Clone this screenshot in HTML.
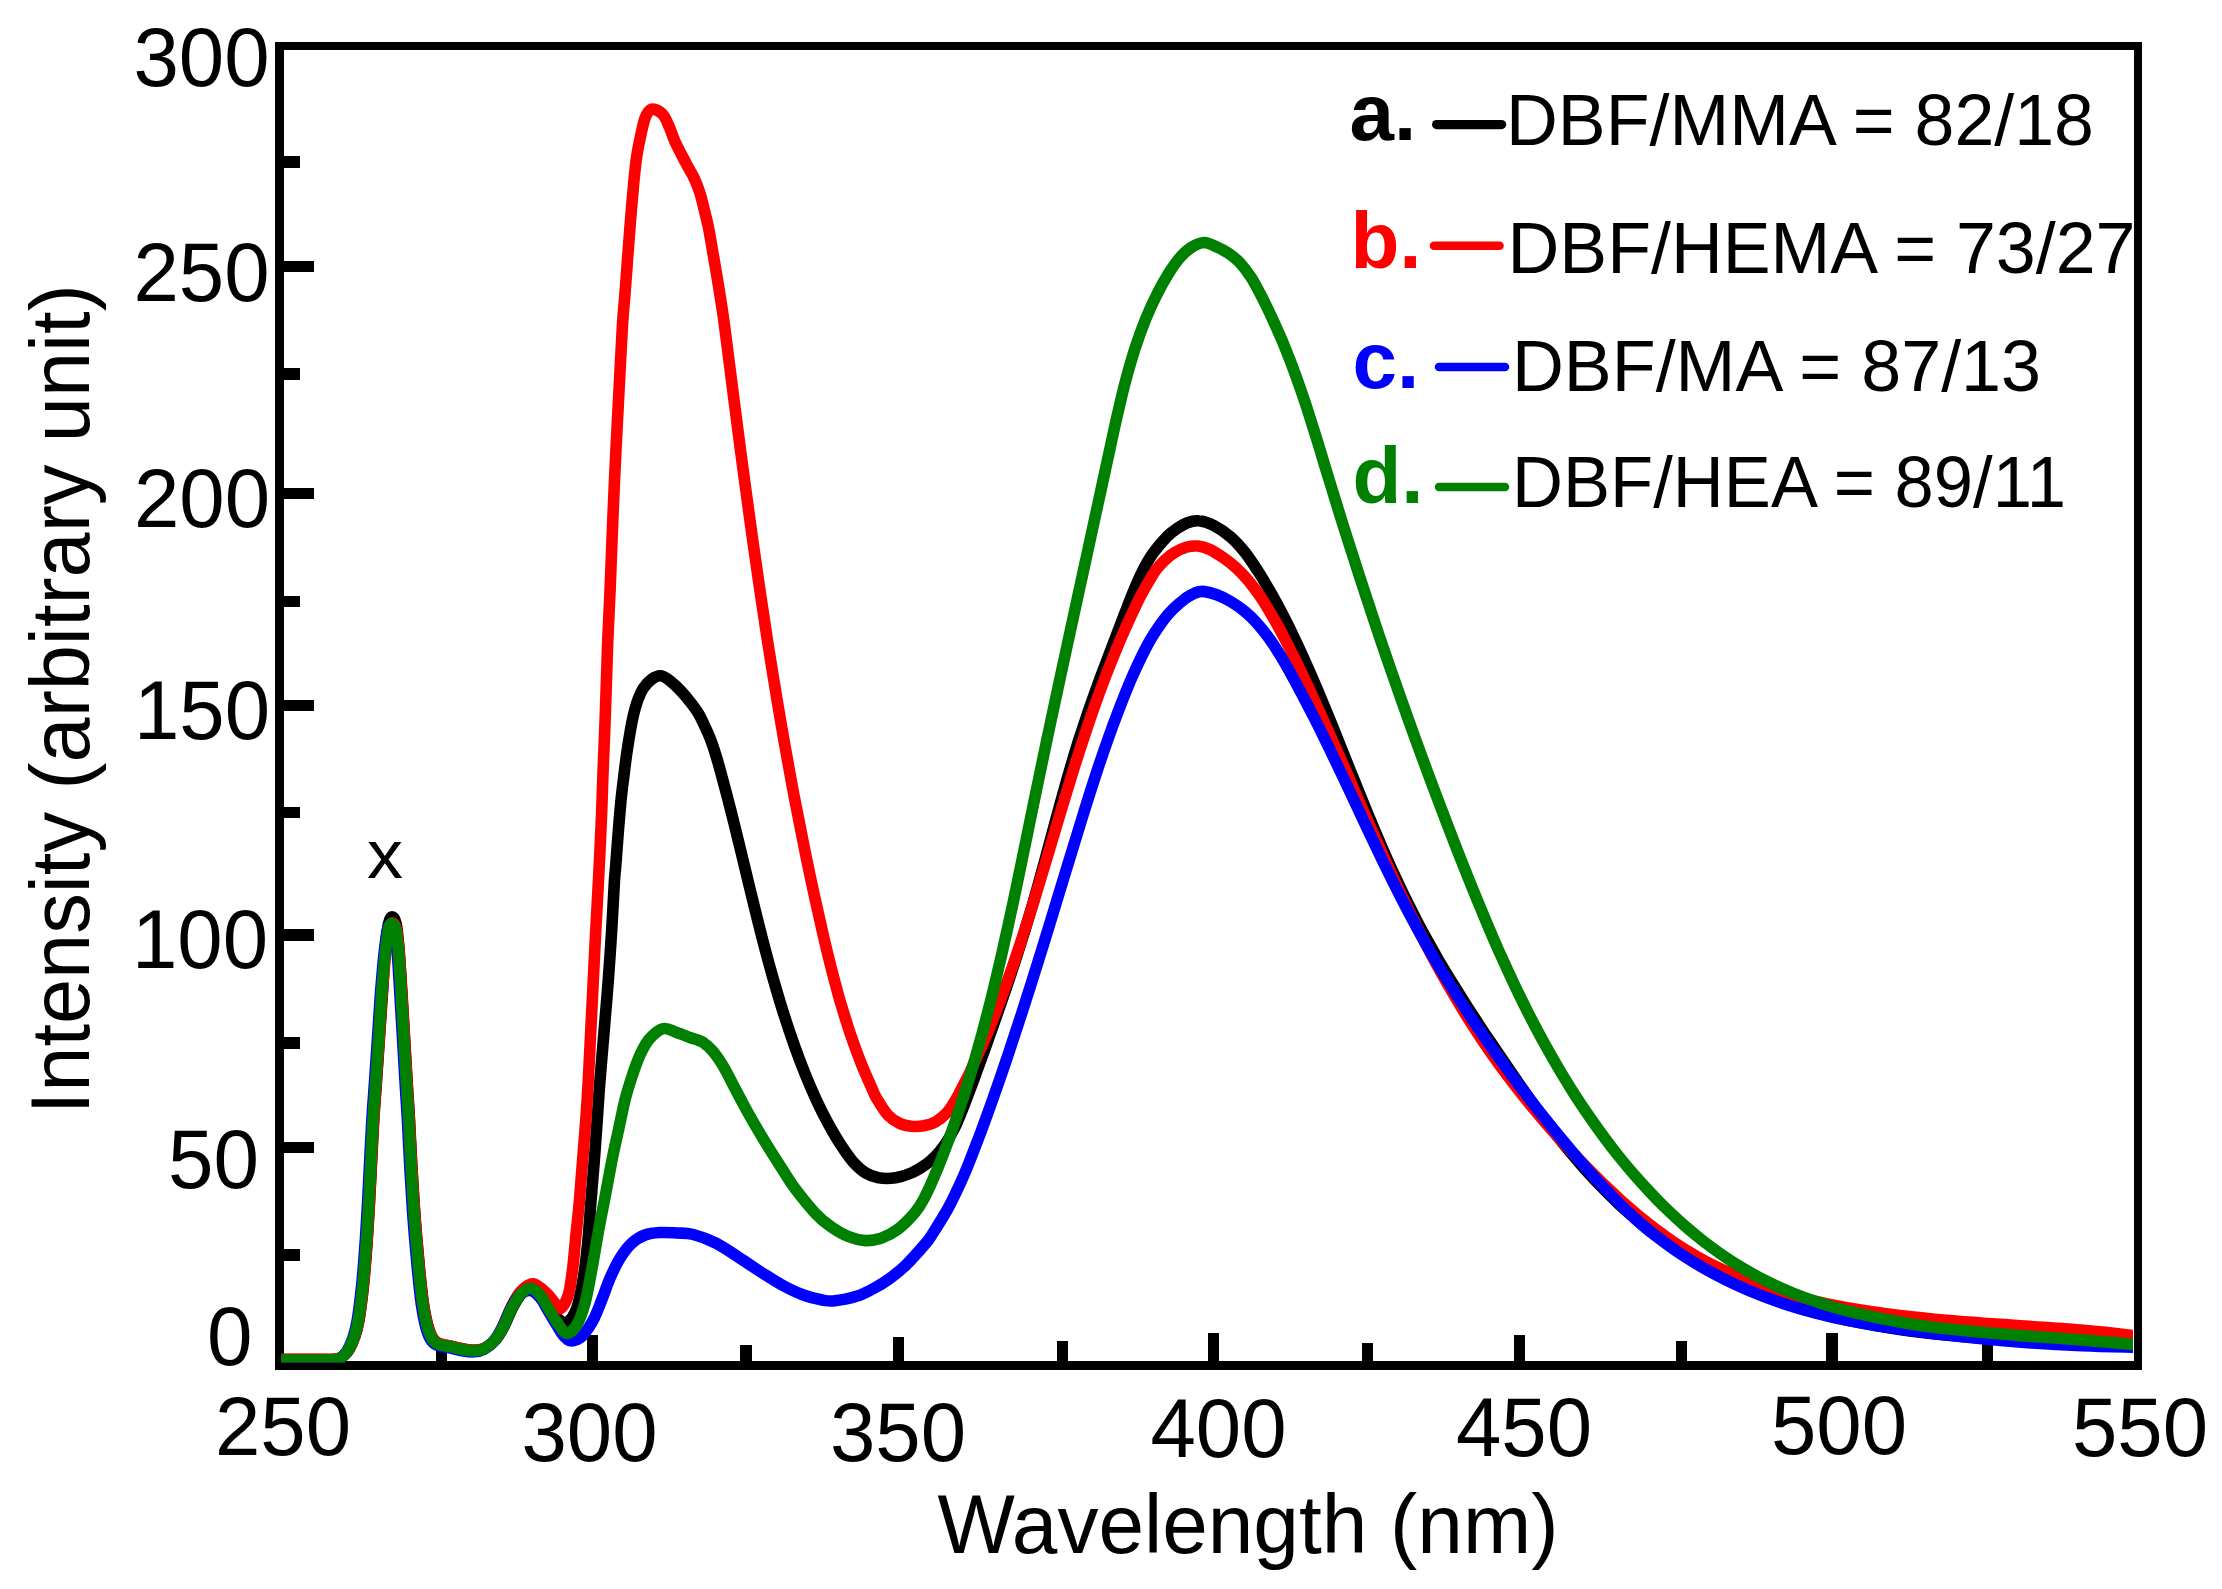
<!DOCTYPE html>
<html lang="en"><head><meta charset="utf-8"><title>Fluorescence spectra</title>
<style>
html,body{margin:0;padding:0;background:#fff;}
body{width:2222px;height:1589px;overflow:hidden;}
svg{display:block;}
text{font-family:"Liberation Sans",Arial,Helvetica,sans-serif;}
</style></head><body>
<svg width="2222" height="1589" viewBox="0 0 2222 1589">
<rect width="2222" height="1589" fill="#fff"/>
<defs><clipPath id="plot"><rect x="281" y="50" width="1852" height="1312.5"/></clipPath></defs>

<g id="axes" fill="#000" shape-rendering="crispEdges">
<rect x="275" y="42" width="1867" height="8"/>
<rect x="275" y="1361" width="1867" height="9"/>
<rect x="275" y="42" width="9" height="1328"/>
<rect x="2134" y="42" width="8" height="1328"/>
<rect x="283.5" y="156.3" width="16.5" height="11.4"/>
<rect x="283.5" y="260.6" width="30.5" height="11.4"/>
<rect x="283.5" y="368.3" width="16.5" height="11.4"/>
<rect x="283.5" y="487.8" width="30.5" height="11.4"/>
<rect x="283.5" y="595.8" width="16.5" height="11.4"/>
<rect x="283.5" y="699.5" width="30.5" height="11.4"/>
<rect x="283.5" y="806.8" width="16.5" height="11.4"/>
<rect x="283.5" y="929.3" width="30.5" height="11.4"/>
<rect x="283.5" y="1037.1" width="16.5" height="11.4"/>
<rect x="283.5" y="1141.8" width="30.5" height="11.4"/>
<rect x="283.5" y="1249.1" width="16.5" height="11.4"/>
<rect x="435.9" y="1349.0" width="11.2" height="13.0"/>
<rect x="586.5" y="1335.0" width="11.2" height="27.0"/>
<rect x="740.4" y="1345.0" width="11.2" height="17.0"/>
<rect x="892.6" y="1336.7" width="11.2" height="25.3"/>
<rect x="1056.6" y="1341.3" width="11.2" height="20.7"/>
<rect x="1207.6" y="1333.0" width="11.2" height="29.0"/>
<rect x="1361.7" y="1343.0" width="11.2" height="19.0"/>
<rect x="1513.6" y="1335.0" width="11.2" height="27.0"/>
<rect x="1675.9" y="1341.3" width="11.2" height="20.7"/>
<rect x="1826.4" y="1333.0" width="11.2" height="29.0"/>
<rect x="1981.7" y="1343.0" width="11.2" height="19.0"/>
</g>
<g id="curves" clip-path="url(#plot)" fill="none" stroke-width="11.6" stroke-linejoin="round" stroke-linecap="butt">
<path id="c_black" stroke="#000000" d="M281.8 1359.5C283.0 1359.5 286.5 1359.5 288.8 1359.5C291.1 1359.5 293.5 1359.5 295.8 1359.5C298.1 1359.5 300.5 1359.5 302.8 1359.5C305.1 1359.5 307.5 1359.5 309.8 1359.5C312.1 1359.5 314.5 1359.5 316.8 1359.5C319.1 1359.5 321.5 1359.5 323.8 1359.5C326.1 1359.5 328.6 1359.6 330.8 1359.5C333.0 1359.4 334.8 1359.5 336.8 1359.0C338.8 1358.5 340.8 1358.1 342.8 1356.5C344.9 1354.9 347.1 1352.9 349.1 1349.5C351.1 1346.1 353.3 1341.2 355.0 1336.2C356.7 1331.2 357.9 1326.5 359.1 1319.5C360.4 1312.5 361.5 1302.8 362.5 1294.5C363.5 1286.2 364.2 1279.2 365.0 1269.5C365.8 1259.8 366.8 1247.3 367.5 1236.2C368.2 1225.1 368.8 1215.3 369.5 1202.8C370.2 1190.3 370.9 1175.1 371.6 1161.2C372.3 1147.3 373.0 1133.1 373.8 1119.5C374.6 1105.9 375.6 1094.5 376.6 1079.5C377.6 1064.5 379.0 1044.8 380.0 1029.5C381.0 1014.2 381.9 1001.3 382.8 987.8C383.7 974.3 384.3 959.2 385.3 948.5C386.3 937.8 387.5 928.8 388.6 923.5C389.7 918.2 390.8 916.8 392.0 916.8C393.2 916.8 394.9 918.2 396.1 923.5C397.3 928.8 398.1 937.8 399.0 948.5C399.9 959.2 400.8 974.3 401.6 987.8C402.5 1001.3 403.2 1014.2 404.1 1029.5C405.0 1044.8 406.1 1064.5 407.0 1079.5C407.9 1094.5 408.7 1105.9 409.5 1119.5C410.3 1133.1 410.8 1147.3 411.6 1161.2C412.4 1175.1 413.3 1190.3 414.1 1202.8C414.9 1215.3 415.7 1225.1 416.6 1236.2C417.5 1247.3 418.5 1258.4 419.6 1269.5C420.7 1280.6 422.0 1293.6 423.3 1302.8C424.6 1312.0 426.0 1318.7 427.5 1324.5C429.0 1330.3 430.6 1334.6 432.5 1337.8C434.4 1341.0 436.1 1342.3 439.1 1343.7C442.2 1345.1 446.6 1345.3 450.8 1346.2C455.0 1347.1 459.9 1348.5 464.1 1349.2C468.3 1349.9 472.2 1350.5 475.8 1350.3C479.4 1350.1 482.5 1349.6 485.8 1347.8C489.1 1346.0 492.8 1343.1 495.8 1339.5C498.9 1335.9 501.3 1331.5 504.1 1326.2C506.9 1320.9 509.7 1313.1 512.5 1307.8C515.3 1302.5 517.9 1297.7 520.8 1294.5C523.7 1291.3 526.8 1288.4 530.0 1288.5C533.2 1288.6 537.0 1291.9 540.0 1295.0C543.0 1298.1 545.5 1303.2 548.3 1307.0C551.1 1310.8 553.9 1315.4 557.0 1318.0C560.1 1320.6 563.4 1324.1 566.7 1322.5C570.0 1320.9 573.9 1315.7 576.7 1308.3C579.5 1300.9 581.5 1288.8 583.3 1278.3C585.1 1267.8 586.2 1257.5 587.5 1245.0C588.8 1232.5 589.7 1217.2 590.8 1203.3C591.9 1189.4 593.1 1175.6 594.2 1161.7C595.3 1147.8 596.2 1133.6 597.2 1120.0C598.2 1106.4 598.8 1095.0 600.0 1080.0C601.2 1065.0 602.8 1046.7 604.2 1030.0C605.6 1013.3 607.0 996.7 608.3 980.0C609.5 963.3 610.7 946.7 611.7 930.0C612.7 913.3 613.8 890.8 614.5 880.0C615.2 869.2 615.2 873.0 615.8 865.0C616.4 857.0 617.4 842.8 618.3 831.7C619.2 820.6 620.2 808.0 621.2 798.3C622.2 788.6 623.2 781.6 624.2 773.3C625.2 765.0 626.2 756.6 627.5 748.3C628.8 740.0 630.2 730.8 631.7 723.3C633.2 715.8 634.8 709.1 636.7 703.3C638.6 697.5 640.8 692.3 643.3 688.3C645.8 684.3 648.8 681.3 651.7 679.2C654.6 677.1 657.8 675.5 660.8 675.8C663.8 676.1 666.8 678.4 670.0 680.8C673.2 683.2 676.7 686.5 680.0 690.0C683.3 693.5 687.0 697.8 690.0 701.7C693.0 705.6 695.8 709.1 698.3 713.3C700.8 717.5 702.8 721.9 705.0 726.7C707.2 731.4 709.4 736.2 711.4 741.7C713.5 747.3 715.5 753.9 717.3 760.0C719.1 766.1 720.7 772.0 722.4 778.4C724.2 784.8 725.9 791.5 727.7 798.4C729.5 805.3 731.5 813.0 733.2 819.9C734.9 826.8 736.5 833.1 738.1 839.8C739.8 846.5 740.9 851.1 743.0 860.0C745.1 868.9 748.3 882.1 751.0 893.2C753.7 904.3 756.4 915.3 759.2 926.4C762.0 937.5 764.9 948.7 767.9 959.7C770.9 970.7 774.5 983.4 777.2 992.5C779.8 1001.5 780.9 1005.1 783.8 1014.1C786.7 1023.2 791.1 1036.4 794.7 1046.5C798.3 1056.6 801.8 1065.8 805.4 1074.7C809.0 1083.5 812.3 1091.4 816.1 1099.4C819.8 1107.4 823.7 1115.3 827.7 1122.6C831.7 1129.9 835.7 1137.0 839.9 1143.5C844.1 1149.9 848.3 1156.4 852.6 1161.3C857.0 1166.2 861.5 1170.3 865.8 1173.0C870.2 1175.7 874.2 1176.9 878.4 1177.7C882.6 1178.6 887.4 1178.5 891.1 1178.3C894.8 1178.2 897.1 1177.7 900.6 1176.7C904.2 1175.7 908.8 1174.0 912.4 1172.5C915.9 1170.9 918.7 1169.3 921.9 1167.2C925.0 1165.2 928.2 1162.8 931.1 1160.2C934.0 1157.7 936.5 1155.3 939.3 1151.9C942.0 1148.6 945.2 1144.3 947.7 1140.3C950.3 1136.2 953.0 1130.9 954.7 1127.6C956.5 1124.3 955.8 1125.8 958.0 1120.4C960.3 1115.0 964.8 1103.5 968.0 1094.9C971.3 1086.4 973.7 1079.7 977.5 1069.3C981.3 1058.9 986.7 1044.0 990.7 1032.5C994.8 1021.0 998.4 1010.8 1002.0 1000.4C1005.6 989.9 1008.8 980.4 1012.3 969.8C1015.8 959.3 1019.4 948.1 1022.8 937.1C1026.2 926.1 1029.5 915.0 1032.7 904.1C1035.9 893.2 1038.9 882.4 1041.8 871.6C1044.8 860.9 1047.5 850.5 1050.5 839.6C1053.5 828.6 1056.5 817.1 1059.6 805.9C1062.7 794.8 1065.8 783.5 1069.0 772.6C1072.1 761.7 1075.3 751.0 1078.6 740.5C1082.0 730.1 1085.3 720.2 1088.9 709.7C1092.5 699.2 1096.6 688.1 1100.5 677.3C1104.5 666.6 1109.3 653.9 1112.7 645.0C1116.1 636.1 1118.6 629.5 1120.8 623.9C1122.9 618.3 1124.0 615.4 1125.6 611.3C1127.2 607.2 1127.9 605.1 1130.3 599.2C1132.7 593.4 1136.5 583.5 1140.0 576.2C1143.6 568.9 1147.2 561.9 1151.6 555.3C1156.1 548.7 1162.8 541.1 1166.9 536.7C1171.0 532.4 1172.7 531.4 1176.2 529.1C1179.6 526.7 1183.7 524.1 1187.5 522.7C1191.3 521.3 1194.4 520.3 1198.7 520.8C1203.1 521.2 1208.3 522.7 1213.5 525.4C1218.8 528.1 1225.1 532.3 1230.3 536.7C1235.5 541.1 1240.0 546.2 1244.7 552.0C1249.3 557.8 1253.8 564.8 1258.3 571.7C1262.7 578.6 1267.0 586.0 1271.3 593.5C1275.5 601.0 1279.7 608.7 1283.7 616.5C1287.7 624.2 1291.4 631.8 1295.2 639.9C1299.1 647.9 1303.0 656.6 1306.7 665.0C1310.5 673.4 1313.8 681.1 1317.7 690.3C1321.6 699.6 1324.7 707.1 1330.2 720.5C1335.6 734.0 1343.7 754.2 1350.4 770.9C1357.2 787.6 1363.8 804.3 1370.7 820.8C1377.7 837.3 1384.5 853.5 1392.1 870.1C1399.7 886.7 1409.1 905.8 1416.5 920.2C1423.9 934.6 1430.5 945.9 1436.5 956.5C1442.6 967.2 1447.8 975.4 1453.0 983.9C1458.1 992.4 1462.2 998.8 1467.7 1007.4C1473.3 1016.0 1480.2 1026.4 1486.2 1035.6C1492.3 1044.7 1498.6 1053.9 1504.2 1062.1C1509.7 1070.3 1514.3 1077.0 1519.8 1084.8C1525.2 1092.5 1531.2 1101.0 1536.7 1108.6C1542.3 1116.3 1547.7 1123.6 1553.1 1130.6C1558.6 1137.6 1563.9 1144.3 1569.2 1150.8C1574.6 1157.3 1580.0 1163.6 1585.3 1169.6C1590.7 1175.6 1595.9 1181.2 1601.4 1186.8C1606.8 1192.5 1613.2 1198.7 1618.2 1203.4C1623.2 1208.1 1626.0 1210.7 1631.3 1215.2C1636.6 1219.8 1641.4 1224.2 1650.0 1230.8C1658.6 1237.3 1671.8 1247.2 1682.9 1254.5C1693.9 1261.7 1705.2 1268.3 1716.2 1274.2C1727.2 1280.0 1738.0 1285.1 1748.9 1289.7C1759.8 1294.4 1770.5 1298.4 1781.5 1302.2C1792.4 1305.9 1803.4 1309.2 1814.5 1312.2C1825.6 1315.2 1834.0 1317.4 1847.9 1320.3C1861.9 1323.1 1881.3 1326.7 1898.1 1329.2C1914.9 1331.7 1929.1 1333.4 1948.7 1335.3C1968.4 1337.2 1993.8 1339.0 2016.2 1340.5C2038.6 1341.9 2063.3 1343.0 2082.9 1344.0C2102.5 1345.1 2124.0 1346.3 2133.7 1346.8C2143.5 1347.3 2140.1 1347.2 2141.4 1347.3"/>
<path id="c_red" stroke="#ff0000" d="M281.6 1359.4C282.8 1359.4 286.3 1359.4 288.6 1359.4C290.9 1359.4 293.3 1359.4 295.6 1359.4C297.9 1359.4 300.3 1359.4 302.6 1359.4C304.9 1359.4 307.3 1359.4 309.6 1359.4C311.9 1359.4 314.3 1359.4 316.6 1359.4C318.9 1359.4 321.3 1359.4 323.6 1359.4C325.9 1359.4 328.4 1359.5 330.6 1359.4C332.8 1359.3 334.6 1359.4 336.6 1358.9C338.6 1358.4 340.6 1358.0 342.6 1356.4C344.7 1354.8 346.9 1352.8 348.9 1349.4C350.9 1346.0 353.1 1341.1 354.8 1336.1C356.5 1331.1 357.7 1326.4 358.9 1319.4C360.2 1312.5 361.3 1302.7 362.3 1294.4C363.3 1286.1 364.0 1279.1 364.8 1269.4C365.6 1259.7 366.6 1247.2 367.3 1236.1C368.1 1225.0 368.6 1215.2 369.3 1202.7C370.0 1190.2 370.7 1175.0 371.4 1161.1C372.1 1147.2 372.8 1133.0 373.6 1119.4C374.4 1105.8 375.4 1094.4 376.4 1079.4C377.4 1064.4 378.8 1044.7 379.8 1029.4C380.8 1014.1 381.6 1000.2 382.6 987.7C383.6 975.2 384.6 964.1 385.6 954.4C386.7 944.7 387.8 934.7 388.9 929.4C390.0 924.1 391.1 922.7 392.3 922.7C393.6 922.7 395.2 924.1 396.4 929.4C397.6 934.7 398.5 944.7 399.3 954.4C400.1 964.1 400.6 975.2 401.4 987.7C402.2 1000.2 403.0 1014.1 403.9 1029.4C404.8 1044.7 405.9 1064.4 406.8 1079.4C407.7 1094.4 408.5 1105.8 409.3 1119.4C410.1 1133.0 410.6 1147.2 411.4 1161.1C412.2 1175.0 413.1 1190.2 413.9 1202.7C414.7 1215.2 415.5 1225.0 416.4 1236.1C417.3 1247.2 418.3 1258.3 419.4 1269.4C420.5 1280.5 421.8 1293.5 423.1 1302.7C424.4 1311.9 425.8 1318.6 427.3 1324.4C428.8 1330.2 430.4 1334.5 432.3 1337.7C434.2 1340.9 435.9 1342.2 438.9 1343.6C442.0 1345.0 446.4 1345.2 450.6 1346.1C454.8 1347.0 459.7 1348.4 463.9 1349.1C468.1 1349.8 472.0 1350.4 475.6 1350.2C479.2 1350.0 482.3 1349.5 485.6 1347.7C488.9 1345.9 492.7 1343.0 495.6 1339.4C498.5 1335.8 500.3 1331.6 503.0 1326.0C505.7 1320.4 508.7 1311.8 511.7 1306.0C514.7 1300.2 517.4 1294.7 521.0 1291.0C524.6 1287.3 529.0 1283.3 533.3 1283.7C537.6 1284.1 543.1 1290.0 546.7 1293.3C550.3 1296.6 552.6 1300.8 555.0 1303.3C557.4 1305.8 558.6 1309.7 560.8 1308.3C563.0 1306.9 566.3 1301.4 568.3 1295.0C570.2 1288.6 571.2 1279.7 572.5 1270.0C573.8 1260.3 574.7 1247.8 575.8 1236.7C576.9 1225.6 578.1 1215.8 579.2 1203.3C580.3 1190.8 581.4 1175.6 582.5 1161.7C583.6 1147.8 584.8 1133.6 585.8 1120.0C586.8 1106.4 587.5 1095.0 588.3 1080.0C589.1 1065.0 590.0 1046.7 590.8 1030.0C591.6 1013.3 592.5 996.7 593.3 980.0C594.1 963.3 594.9 946.7 595.8 930.0C596.7 913.3 597.6 897.8 598.5 880.0C599.4 862.2 600.5 841.1 601.2 823.3C602.0 805.5 602.4 790.0 603.0 773.3C603.6 756.6 604.4 740.0 605.0 723.3C605.6 706.6 606.2 687.2 606.7 673.3C607.2 659.4 607.2 654.8 607.8 640.0C608.4 625.2 609.5 604.8 610.3 584.8C611.1 564.8 611.9 541.9 612.8 520.0C613.7 498.1 614.7 475.5 615.8 453.3C616.9 431.1 618.1 408.1 619.2 386.7C620.3 365.3 621.5 340.4 622.5 324.8C623.5 309.2 624.2 304.1 625.0 293.3C625.8 282.5 626.7 271.1 627.5 260.0C628.3 248.9 629.1 237.8 630.0 226.7C630.9 215.6 631.8 204.4 632.8 193.3C633.8 182.2 634.9 169.7 636.2 160.0C637.5 150.3 639.3 141.9 640.8 135.0C642.3 128.1 643.5 122.5 645.0 118.3C646.5 114.1 648.2 111.4 650.0 110.0C651.8 108.6 653.6 108.9 655.8 109.7C658.0 110.5 661.1 112.2 663.3 115.0C665.5 117.8 667.2 122.2 669.2 126.7C671.2 131.2 672.9 137.0 675.0 141.7C677.1 146.4 679.5 150.7 681.7 155.0C683.9 159.3 686.2 163.6 688.3 167.5C690.4 171.4 692.2 174.0 694.2 178.3C696.2 182.6 698.3 188.0 700.0 193.3C701.7 198.6 702.9 204.4 704.3 210.0C705.6 215.6 706.9 219.8 708.3 226.7C709.7 233.7 711.3 243.4 712.7 251.7C714.2 260.0 715.6 268.3 717.0 276.7C718.4 285.0 719.7 293.6 721.0 301.7C722.2 309.7 722.5 310.6 724.4 324.8C726.3 339.0 729.6 365.3 732.3 386.7C735.1 408.2 738.0 431.1 740.9 453.3C743.9 475.5 746.9 498.0 749.9 519.9C752.9 541.8 756.2 564.8 759.1 584.8C762.0 604.9 765.2 625.3 767.4 640.1C769.7 654.8 770.9 662.2 772.7 673.3C774.5 684.4 776.3 695.5 778.2 706.7C780.1 717.8 782.0 728.9 783.9 740.0C785.9 751.1 787.9 762.1 789.9 773.2C791.9 784.4 793.3 792.2 796.2 806.7C799.0 821.2 803.9 845.7 806.8 860.2C809.8 874.6 811.5 882.4 813.9 893.5C816.3 904.6 818.8 915.6 821.3 926.6C823.8 937.7 826.4 948.9 829.1 959.7C831.8 970.6 835.5 984.4 837.5 991.9C839.5 999.5 839.0 997.8 841.2 1004.9C843.4 1012.1 847.3 1025.0 850.6 1034.7C853.9 1044.3 857.3 1053.8 861.0 1063.0C864.7 1072.3 870.1 1084.3 872.7 1090.2C875.3 1096.1 874.2 1094.3 876.7 1098.5C879.2 1102.6 884.0 1110.8 887.7 1114.9C891.5 1119.0 895.5 1121.4 899.4 1123.3C903.3 1125.2 907.1 1125.8 911.2 1126.2C915.2 1126.6 919.4 1126.5 923.5 1125.8C927.6 1125.0 931.9 1123.9 935.8 1121.7C939.6 1119.5 943.9 1115.7 946.8 1112.7C949.7 1109.7 951.1 1107.2 953.2 1103.9C955.3 1100.5 957.5 1096.3 959.5 1092.8C961.4 1089.2 962.9 1086.2 964.8 1082.4C966.7 1078.7 967.1 1078.4 970.8 1070.3C974.5 1062.1 982.4 1045.0 987.2 1033.5C992.1 1022.0 996.0 1012.0 1000.0 1001.4C1004.0 990.8 1007.7 980.6 1011.5 969.8C1015.2 959.1 1019.0 947.8 1022.6 936.8C1026.2 925.7 1029.7 914.6 1033.1 903.7C1036.5 892.8 1039.7 881.9 1042.9 871.3C1046.2 860.6 1049.1 850.5 1052.4 839.7C1055.6 828.9 1058.9 817.6 1062.3 806.5C1065.6 795.5 1069.0 784.2 1072.4 773.3C1075.8 762.3 1079.3 751.5 1082.8 740.9C1086.3 730.2 1089.6 720.2 1093.4 709.5C1097.2 698.7 1101.3 687.5 1105.5 676.5C1109.7 665.6 1114.7 653.2 1118.7 643.7C1122.6 634.2 1126.7 625.3 1129.3 619.7C1131.8 614.1 1131.7 614.3 1133.8 610.0C1135.9 605.7 1138.2 600.3 1141.8 593.8C1145.4 587.4 1151.4 576.7 1155.2 571.1C1158.9 565.6 1161.2 563.5 1164.5 560.4C1167.8 557.3 1170.9 554.7 1174.7 552.5C1178.5 550.2 1183.2 548.1 1187.0 547.0C1190.9 546.0 1194.2 545.7 1198.0 546.1C1201.7 546.5 1205.2 547.5 1209.5 549.4C1213.8 551.4 1219.2 554.9 1223.8 558.1C1228.3 561.2 1232.7 564.8 1236.8 568.4C1240.8 572.1 1244.1 575.5 1248.0 580.2C1251.9 584.8 1256.2 590.6 1260.2 596.4C1264.1 602.2 1267.8 608.3 1271.7 615.0C1275.6 621.7 1279.8 629.4 1283.6 636.6C1287.5 643.9 1291.2 651.5 1294.7 658.5C1298.1 665.4 1301.0 671.6 1304.3 678.5C1307.5 685.5 1311.0 692.9 1314.3 700.1C1317.6 707.4 1319.9 712.5 1324.1 721.9C1328.3 731.3 1334.2 744.7 1339.5 756.5C1344.7 768.4 1350.2 781.0 1355.4 793.0C1360.6 804.9 1365.7 816.6 1370.8 828.0C1375.9 839.4 1380.8 850.4 1385.9 861.6C1391.0 872.7 1396.2 884.1 1401.4 894.9C1406.5 905.7 1411.7 916.3 1416.8 926.6C1422.0 936.8 1427.2 946.9 1432.3 956.5C1437.4 966.1 1442.4 975.1 1447.6 984.2C1452.8 993.3 1457.9 1001.9 1463.6 1011.2C1469.3 1020.4 1475.6 1030.3 1481.7 1039.4C1487.8 1048.5 1494.2 1057.6 1500.0 1065.6C1505.8 1073.6 1510.8 1080.1 1516.5 1087.4C1522.2 1094.8 1528.5 1102.6 1534.5 1109.7C1540.4 1116.9 1546.4 1123.9 1552.3 1130.6C1558.2 1137.2 1564.0 1143.6 1569.8 1149.8C1575.7 1156.1 1581.5 1162.1 1587.2 1167.9C1592.9 1173.7 1598.3 1179.0 1603.9 1184.5C1609.6 1189.9 1615.3 1195.3 1621.1 1200.5C1626.9 1205.7 1632.9 1210.8 1638.6 1215.6C1644.4 1220.4 1649.5 1224.5 1655.7 1229.1C1661.9 1233.8 1669.4 1239.2 1676.1 1243.7C1682.8 1248.1 1689.0 1252.0 1695.6 1255.8C1702.2 1259.6 1706.9 1262.4 1715.7 1266.5C1724.5 1270.7 1737.7 1276.7 1748.5 1281.0C1759.4 1285.2 1770.1 1288.7 1781.0 1292.0C1791.8 1295.3 1802.6 1298.1 1813.6 1300.8C1824.6 1303.4 1833.1 1305.3 1847.1 1307.7C1861.2 1310.1 1880.9 1313.2 1897.9 1315.3C1914.9 1317.4 1929.3 1318.8 1949.2 1320.5C1969.0 1322.2 1994.7 1323.9 2017.1 1325.5C2039.5 1327.2 2064.2 1328.7 2083.6 1330.4C2103.0 1332.1 2123.9 1334.5 2133.5 1335.6C2143.0 1336.6 2139.7 1336.4 2140.9 1336.5"/>
<path id="c_blue" stroke="#0000ff" d="M279.8 1361.0C281.0 1361.0 284.5 1361.0 286.8 1361.0C289.1 1361.0 291.5 1361.0 293.8 1361.0C296.1 1361.0 298.5 1361.0 300.8 1361.0C303.1 1361.0 305.5 1361.0 307.8 1361.0C310.1 1361.0 312.5 1361.0 314.8 1361.0C317.1 1361.0 319.5 1361.0 321.8 1361.0C324.1 1361.0 326.6 1361.1 328.8 1361.0C331.0 1360.9 332.8 1361.0 334.8 1360.5C336.8 1360.0 338.8 1359.6 340.8 1358.0C342.9 1356.4 345.1 1354.4 347.1 1351.0C349.1 1347.6 351.3 1342.7 353.0 1337.7C354.7 1332.7 355.9 1328.0 357.1 1321.0C358.4 1314.0 359.5 1304.3 360.5 1296.0C361.5 1287.7 362.2 1280.7 363.0 1271.0C363.8 1261.3 364.8 1248.8 365.5 1237.7C366.2 1226.6 366.8 1216.8 367.5 1204.3C368.2 1191.8 368.9 1176.6 369.6 1162.7C370.3 1148.8 371.0 1134.6 371.8 1121.0C372.6 1107.4 373.6 1096.0 374.6 1081.0C375.6 1066.0 377.0 1046.3 378.0 1031.0C379.0 1015.7 379.8 1001.8 380.8 989.3C381.8 976.8 382.8 965.7 383.8 956.0C384.9 946.3 386.0 936.3 387.1 931.0C388.2 925.7 389.2 924.3 390.5 924.3C391.8 924.3 393.4 925.7 394.6 931.0C395.8 936.3 396.7 946.3 397.5 956.0C398.3 965.7 398.8 976.8 399.6 989.3C400.4 1001.8 401.2 1015.7 402.1 1031.0C403.0 1046.3 404.1 1066.0 405.0 1081.0C405.9 1096.0 406.7 1107.4 407.5 1121.0C408.3 1134.6 408.8 1148.8 409.6 1162.7C410.4 1176.6 411.3 1191.8 412.1 1204.3C412.9 1216.8 413.7 1226.6 414.6 1237.7C415.5 1248.8 416.5 1259.9 417.6 1271.0C418.7 1282.1 420.0 1295.1 421.3 1304.3C422.6 1313.5 424.0 1320.2 425.5 1326.0C427.0 1331.8 428.6 1336.1 430.5 1339.3C432.4 1342.5 434.1 1343.8 437.1 1345.2C440.2 1346.6 444.6 1346.8 448.8 1347.7C453.0 1348.6 457.9 1350.0 462.1 1350.7C466.3 1351.4 470.2 1352.0 473.8 1351.8C477.4 1351.6 480.5 1351.1 483.8 1349.3C487.1 1347.5 490.8 1344.6 493.8 1341.0C496.9 1337.4 499.3 1333.0 502.1 1327.7C504.9 1322.4 507.7 1314.6 510.5 1309.3C513.3 1304.0 515.5 1299.1 518.8 1296.0C522.0 1292.9 526.5 1290.2 530.0 1290.5C533.5 1290.8 537.0 1294.1 540.0 1297.5C543.0 1300.9 545.5 1306.4 548.3 1311.0C551.1 1315.6 554.2 1321.0 556.7 1325.0C559.2 1329.0 560.8 1332.4 563.0 1335.0C565.2 1337.6 567.7 1340.0 570.0 1340.8C572.3 1341.5 574.8 1340.5 577.0 1339.5C579.2 1338.5 580.6 1338.2 583.3 1335.0C586.0 1331.8 590.2 1325.8 593.3 1320.0C596.4 1314.2 598.9 1307.0 601.7 1300.0C604.5 1293.0 607.0 1285.2 610.0 1278.3C613.0 1271.3 616.4 1264.1 620.0 1258.3C623.6 1252.5 627.5 1247.2 631.7 1243.3C635.9 1239.4 640.3 1236.8 645.0 1235.0C649.7 1233.2 654.7 1232.8 660.0 1232.5C665.3 1232.2 671.2 1232.7 676.7 1233.0C682.2 1233.3 686.7 1232.8 693.3 1234.5C699.9 1236.2 708.4 1239.3 716.2 1243.2C724.0 1247.2 732.8 1253.5 740.2 1258.3C747.6 1263.0 753.9 1267.5 760.8 1272.0C767.8 1276.4 775.1 1281.2 782.0 1285.0C788.8 1288.7 795.2 1291.9 802.1 1294.5C809.0 1297.0 817.8 1299.1 823.2 1300.2C828.7 1301.2 829.3 1301.4 834.9 1300.8C840.4 1300.1 850.0 1298.4 856.5 1296.3C863.0 1294.3 868.0 1291.6 873.6 1288.5C879.2 1285.5 884.7 1282.1 890.1 1278.2C895.5 1274.3 900.2 1270.7 905.9 1265.1C911.7 1259.5 920.4 1249.5 924.8 1244.4C929.1 1239.3 928.2 1240.6 932.1 1234.5C936.0 1228.4 943.5 1216.6 948.3 1207.9C953.0 1199.3 957.4 1189.7 960.6 1182.7C963.9 1175.6 964.8 1173.4 967.9 1165.7C971.0 1158.0 977.0 1142.2 979.2 1136.5C981.4 1130.8 978.8 1137.7 981.1 1131.5C983.3 1125.3 988.9 1110.2 992.7 1099.3C996.6 1088.4 1000.5 1077.1 1004.3 1066.0C1008.0 1055.0 1011.7 1043.9 1015.3 1032.9C1019.0 1021.9 1022.5 1010.9 1025.9 1000.2C1029.3 989.6 1032.4 979.8 1035.7 969.2C1039.1 958.6 1042.5 947.5 1045.8 936.7C1049.2 925.8 1052.5 914.7 1055.8 904.0C1059.1 893.2 1062.3 882.6 1065.6 871.9C1068.8 861.3 1072.0 850.8 1075.4 839.9C1078.7 829.1 1082.1 817.9 1085.6 806.8C1089.0 795.8 1092.6 784.6 1096.2 773.6C1099.8 762.7 1103.5 751.8 1107.3 741.1C1111.0 730.4 1114.8 720.0 1119.0 709.3C1123.2 698.5 1127.5 687.4 1132.3 676.5C1137.2 665.5 1143.2 652.7 1148.2 643.6C1153.1 634.5 1158.0 627.7 1162.1 621.9C1166.3 616.2 1169.0 613.1 1173.0 609.2C1177.0 605.2 1182.5 600.7 1186.0 598.0C1189.6 595.4 1191.5 594.4 1194.3 593.3C1197.1 592.2 1199.2 591.2 1202.9 591.4C1206.6 591.7 1212.1 593.0 1216.7 594.7C1221.3 596.4 1225.8 598.6 1230.4 601.4C1235.0 604.1 1239.9 607.5 1244.3 611.1C1248.8 614.8 1252.9 618.7 1256.9 623.2C1261.0 627.6 1264.8 632.5 1268.7 637.8C1272.5 643.0 1276.4 649.1 1279.9 654.8C1283.4 660.5 1286.4 665.9 1289.8 671.9C1293.1 677.8 1296.4 683.9 1299.9 690.4C1303.3 696.8 1306.9 703.6 1310.3 710.3C1313.7 717.0 1316.6 722.5 1320.4 730.3C1324.3 738.2 1328.5 746.7 1333.5 757.2C1338.6 767.7 1345.2 781.6 1350.8 793.5C1356.4 805.4 1361.8 817.1 1367.2 828.5C1372.6 839.9 1377.8 850.9 1383.2 862.0C1388.6 873.1 1394.2 884.4 1399.7 895.2C1405.2 906.0 1410.7 916.5 1416.3 926.7C1421.9 937.0 1427.9 947.6 1433.1 956.5C1438.3 965.4 1441.9 971.4 1447.3 980.2C1452.7 989.0 1459.5 999.7 1465.7 1009.2C1471.9 1018.7 1478.2 1028.2 1484.5 1037.2C1490.7 1046.2 1497.2 1055.3 1503.0 1063.4C1508.8 1071.4 1513.7 1078.0 1519.3 1085.5C1524.9 1092.9 1531.1 1100.9 1536.8 1108.3C1542.6 1115.6 1548.3 1122.7 1553.9 1129.7C1559.6 1136.6 1565.1 1143.3 1570.6 1149.8C1576.0 1156.3 1581.4 1162.6 1586.7 1168.6C1592.0 1174.7 1597.1 1180.4 1602.5 1186.1C1607.8 1191.9 1614.0 1198.2 1618.8 1203.0C1623.6 1207.9 1626.3 1210.5 1631.4 1215.1C1636.6 1219.8 1641.2 1224.4 1649.7 1231.1C1658.2 1237.7 1671.3 1247.7 1682.3 1255.0C1693.3 1262.3 1704.6 1268.8 1715.7 1274.7C1726.8 1280.7 1737.8 1285.8 1748.8 1290.5C1759.8 1295.2 1770.7 1299.3 1781.7 1303.0C1792.8 1306.8 1803.9 1310.0 1815.0 1312.9C1826.2 1315.9 1834.7 1317.9 1848.6 1320.6C1862.5 1323.3 1882.0 1326.7 1898.7 1329.1C1915.4 1331.5 1929.5 1333.2 1948.9 1335.3C1968.4 1337.4 1993.2 1339.9 2015.4 1341.7C2037.5 1343.5 2062.1 1344.9 2081.9 1345.8C2101.6 1346.7 2124.0 1346.9 2134.0 1347.1C2144.0 1347.3 2140.7 1347.1 2142.1 1347.1"/>
<path id="c_green" stroke="#008000" d="M281.0 1360.0C282.2 1360.0 285.7 1360.0 288.0 1360.0C290.3 1360.0 292.7 1360.0 295.0 1360.0C297.3 1360.0 299.7 1360.0 302.0 1360.0C304.3 1360.0 306.7 1360.0 309.0 1360.0C311.3 1360.0 313.7 1360.0 316.0 1360.0C318.3 1360.0 320.7 1360.0 323.0 1360.0C325.3 1360.0 327.8 1360.1 330.0 1360.0C332.2 1359.9 334.0 1360.0 336.0 1359.5C338.0 1359.0 339.9 1358.6 342.0 1357.0C344.1 1355.4 346.3 1353.4 348.3 1350.0C350.3 1346.6 352.5 1341.7 354.2 1336.7C355.9 1331.7 357.1 1327.0 358.3 1320.0C359.6 1313.0 360.7 1303.3 361.7 1295.0C362.7 1286.7 363.4 1279.7 364.2 1270.0C365.0 1260.3 365.9 1247.8 366.7 1236.7C367.4 1225.6 368.0 1215.8 368.7 1203.3C369.4 1190.8 370.1 1175.6 370.8 1161.7C371.5 1147.8 372.2 1133.6 373.0 1120.0C373.8 1106.4 374.8 1095.0 375.8 1080.0C376.8 1065.0 378.2 1045.3 379.2 1030.0C380.2 1014.7 381.0 1000.8 382.0 988.3C383.0 975.8 383.9 964.7 385.0 955.0C386.1 945.3 387.2 935.3 388.3 930.0C389.4 924.7 390.4 923.3 391.7 923.3C392.9 923.3 394.6 924.7 395.8 930.0C397.0 935.3 397.9 945.3 398.7 955.0C399.5 964.7 400.0 975.8 400.8 988.3C401.6 1000.8 402.4 1014.7 403.3 1030.0C404.2 1045.3 405.3 1065.0 406.2 1080.0C407.1 1095.0 407.9 1106.4 408.7 1120.0C409.5 1133.6 410.0 1147.8 410.8 1161.7C411.6 1175.6 412.5 1190.8 413.3 1203.3C414.1 1215.8 414.9 1225.6 415.8 1236.7C416.7 1247.8 417.7 1258.9 418.8 1270.0C419.9 1281.1 421.2 1294.1 422.5 1303.3C423.8 1312.5 425.2 1319.2 426.7 1325.0C428.2 1330.8 429.8 1335.1 431.7 1338.3C433.6 1341.5 435.2 1342.8 438.3 1344.2C441.4 1345.6 445.8 1345.8 450.0 1346.7C454.2 1347.6 459.1 1349.0 463.3 1349.7C467.5 1350.4 471.4 1351.0 475.0 1350.8C478.6 1350.6 481.7 1350.1 485.0 1348.3C488.3 1346.5 491.9 1343.6 495.0 1340.0C498.1 1336.4 500.5 1332.0 503.3 1326.7C506.1 1321.4 508.9 1313.6 511.7 1308.3C514.5 1303.0 517.0 1298.3 520.0 1295.0C523.0 1291.7 526.7 1288.3 530.0 1288.3C533.3 1288.3 537.0 1291.7 540.0 1295.0C543.0 1298.3 545.5 1303.8 548.3 1308.3C551.1 1312.8 553.6 1317.5 556.7 1321.7C559.8 1325.9 563.4 1332.8 566.7 1333.3C570.0 1333.8 573.7 1330.0 576.7 1325.0C579.8 1320.0 582.5 1312.5 585.0 1303.3C587.5 1294.1 589.5 1281.9 591.7 1270.0C593.9 1258.1 596.2 1243.7 598.3 1232.0C600.4 1220.3 602.2 1212.0 604.5 1200.0C606.8 1188.0 609.7 1171.7 612.0 1160.0C614.3 1148.3 616.3 1140.0 618.5 1130.0C620.7 1120.0 622.7 1109.2 625.0 1100.0C627.3 1090.8 629.9 1082.8 632.5 1075.0C635.1 1067.2 637.9 1059.4 640.8 1053.3C643.7 1047.2 646.2 1042.4 650.0 1038.3C653.8 1034.2 658.8 1029.7 663.3 1028.7C667.8 1027.7 672.2 1031.0 676.7 1032.5C681.2 1034.0 685.6 1035.8 690.0 1037.5C694.4 1039.2 699.4 1040.3 703.3 1042.6C707.1 1045.0 709.8 1047.7 713.1 1051.6C716.4 1055.6 719.9 1060.5 723.2 1066.1C726.5 1071.6 729.8 1078.6 733.2 1084.9C736.5 1091.2 739.7 1097.5 743.1 1103.7C746.4 1109.9 749.8 1116.0 753.3 1122.1C756.8 1128.1 760.4 1134.2 763.8 1139.9C767.3 1145.6 770.5 1150.7 774.0 1156.3C777.5 1161.8 781.3 1167.8 784.8 1173.2C788.4 1178.7 790.3 1182.3 795.4 1189.0C800.5 1195.7 809.5 1207.1 815.5 1213.4C821.4 1219.8 825.9 1223.2 831.4 1227.1C836.9 1230.9 843.0 1234.5 848.7 1236.7C854.3 1239.0 859.8 1240.3 865.2 1240.6C870.6 1240.8 875.7 1240.0 881.1 1238.2C886.5 1236.3 892.2 1233.6 897.7 1229.4C903.3 1225.2 910.2 1218.1 914.6 1213.0C919.0 1207.8 920.6 1205.1 924.0 1198.6C927.5 1192.1 931.1 1184.2 935.3 1174.1C939.5 1164.1 944.9 1150.1 949.2 1138.4C953.5 1126.7 957.5 1115.1 961.2 1103.7C965.0 1092.3 968.2 1081.8 971.7 1070.2C975.2 1058.5 978.9 1045.2 982.1 1033.7C985.2 1022.1 987.9 1011.6 990.6 1001.0C993.3 990.4 995.6 980.6 998.1 969.9C1000.7 959.1 1003.3 947.6 1005.7 936.5C1008.2 925.4 1010.6 914.2 1013.0 903.3C1015.3 892.3 1017.6 881.4 1019.8 870.7C1022.0 860.1 1024.0 850.1 1026.3 839.3C1028.5 828.5 1030.8 817.1 1033.1 806.1C1035.4 795.0 1037.7 783.8 1040.0 772.9C1042.2 762.1 1044.5 751.3 1046.7 740.8C1049.0 730.3 1051.0 720.5 1053.3 709.8C1055.6 699.2 1058.0 687.8 1060.4 676.8C1062.8 665.8 1065.1 654.9 1067.5 643.9C1069.9 632.9 1071.5 625.4 1074.7 610.8C1077.9 596.1 1083.4 570.7 1086.6 556.2C1089.7 541.7 1091.2 534.9 1093.6 524.0C1096.0 513.0 1098.1 503.2 1100.9 490.6C1103.6 478.1 1107.2 461.2 1110.0 448.6C1112.7 435.9 1114.8 426.0 1117.4 414.8C1120.0 403.5 1122.5 392.3 1125.5 381.2C1128.5 370.0 1131.8 358.4 1135.2 347.9C1138.6 337.4 1142.3 327.4 1146.0 318.3C1149.7 309.3 1153.5 301.2 1157.3 293.7C1161.0 286.2 1164.8 279.5 1168.5 273.6C1172.3 267.6 1175.7 262.4 1179.6 258.0C1183.4 253.6 1187.5 249.8 1191.6 247.3C1195.7 244.7 1200.1 242.6 1204.3 242.5C1208.4 242.5 1212.8 245.2 1216.8 247.0C1220.8 248.7 1224.2 250.4 1228.1 253.1C1232.0 255.8 1236.3 258.9 1240.2 263.1C1244.1 267.3 1248.0 272.5 1251.6 278.1C1255.1 283.7 1258.4 290.2 1261.7 296.7C1265.1 303.2 1268.2 309.7 1271.6 316.9C1274.9 324.1 1278.5 332.0 1281.9 340.0C1285.2 348.0 1288.5 356.3 1291.8 364.9C1295.0 373.5 1298.2 382.4 1301.4 391.7C1304.6 400.9 1307.7 410.4 1310.8 420.2C1313.9 429.9 1317.1 440.4 1320.2 450.4C1323.2 460.4 1325.4 467.9 1329.2 480.1C1332.9 492.2 1338.5 510.3 1342.6 523.6C1346.8 536.9 1350.2 547.4 1354.2 559.8C1358.1 572.2 1362.6 585.9 1366.6 597.9C1370.5 609.9 1374.1 620.7 1377.9 632.0C1381.7 643.2 1385.7 654.8 1389.3 665.3C1392.9 675.8 1396.5 685.9 1399.7 695.1C1402.9 704.2 1405.2 710.5 1408.6 720.2C1412.1 729.9 1416.5 742.1 1420.5 753.1C1424.6 764.1 1428.7 775.2 1432.8 786.2C1436.9 797.2 1441.2 808.5 1445.3 819.1C1449.3 829.8 1453.6 840.8 1457.2 850.1C1460.8 859.3 1463.7 866.6 1467.0 874.8C1470.3 883.0 1473.5 891.1 1477.0 899.5C1480.4 907.8 1484.0 916.4 1487.6 925.0C1491.2 933.5 1494.4 940.9 1498.7 950.7C1503.1 960.4 1508.9 973.2 1513.9 983.7C1518.8 994.1 1523.6 1003.8 1528.4 1013.3C1533.2 1022.7 1537.8 1031.4 1542.6 1040.3C1547.5 1049.2 1552.7 1058.3 1557.7 1066.9C1562.7 1075.5 1567.8 1083.7 1572.9 1091.8C1578.0 1099.8 1583.1 1107.5 1588.2 1114.9C1593.3 1122.4 1598.5 1129.6 1603.6 1136.5C1608.7 1143.5 1613.8 1150.1 1618.9 1156.5C1624.0 1162.8 1629.0 1168.8 1634.2 1174.8C1639.4 1180.7 1645.3 1187.2 1650.1 1192.3C1654.8 1197.4 1657.2 1200.0 1662.8 1205.4C1668.4 1210.8 1677.0 1219.0 1683.7 1224.9C1690.5 1230.8 1696.5 1235.8 1703.1 1241.0C1709.8 1246.2 1716.8 1251.3 1723.6 1256.0C1730.5 1260.7 1737.4 1265.1 1744.3 1269.1C1751.1 1273.2 1757.9 1276.9 1764.7 1280.3C1771.4 1283.8 1778.1 1286.8 1784.9 1289.8C1791.7 1292.7 1799.0 1295.5 1805.4 1297.9C1811.9 1300.3 1816.7 1301.9 1823.6 1304.1C1830.6 1306.2 1834.6 1307.8 1847.0 1310.8C1859.3 1313.7 1880.7 1318.7 1897.7 1321.7C1914.7 1324.8 1929.1 1326.8 1949.0 1329.1C1968.9 1331.3 1994.6 1333.5 2017.1 1335.4C2039.6 1337.2 2064.4 1338.6 2083.8 1340.1C2103.2 1341.6 2124.0 1343.5 2133.5 1344.4C2143.0 1345.2 2139.7 1345.0 2140.9 1345.2"/>
</g>
<g id="legendlines" stroke-linecap="round" fill="none">
<line x1="1436.6" y1="124.6" x2="1501.6" y2="124.6" stroke="#000000" stroke-width="9.2"/>
<line x1="1434.0" y1="245.8" x2="1499.5" y2="245.8" stroke="#ff0000" stroke-width="8.5"/>
<line x1="1439.0" y1="367.1" x2="1505.0" y2="367.1" stroke="#0000ff" stroke-width="8.5"/>
<line x1="1439.0" y1="487" x2="1505.0" y2="487" stroke="#008000" stroke-width="8.5"/>
</g>
<g id="labels">
<text id="l1" x="1506.0" y="145.0" font-size="73" textLength="588.0" lengthAdjust="spacingAndGlyphs">DBF/MMA = 82/18</text>
<text id="l2" x="1507.5" y="273.0" font-size="73" textLength="628.0" lengthAdjust="spacingAndGlyphs">DBF/HEMA = 73/27</text>
<text id="l3" x="1512.0" y="390.8" font-size="73" textLength="529.0" lengthAdjust="spacingAndGlyphs">DBF/MA = 87/13</text>
<text id="l4" x="1512.0" y="507.2" font-size="73" textLength="554.0" lengthAdjust="spacingAndGlyphs">DBF/HEA = 89/11</text>
<text id="la" x="1349.5" y="140.0" font-size="80" font-weight="bold" fill="#000000">a.</text>
<text id="lb" x="1350.5" y="268.0" font-size="80" font-weight="bold" fill="#ff0000">b.</text>
<text id="lc" x="1352.5" y="387.5" font-size="80" font-weight="bold" fill="#0000ff">c.</text>
<text id="ld" x="1352.5" y="502.5" font-size="80" font-weight="bold" fill="#008000">d.</text>
<text id="y300" x="133.5" y="85.5" font-size="83" textLength="136.0" lengthAdjust="spacingAndGlyphs">300</text>
<text id="y250" x="133.5" y="301.0" font-size="83" textLength="136.0" lengthAdjust="spacingAndGlyphs">250</text>
<text id="y200" x="134.0" y="527.0" font-size="83" textLength="136.0" lengthAdjust="spacingAndGlyphs">200</text>
<text id="y150" x="134.0" y="738.8" font-size="83" textLength="136.0" lengthAdjust="spacingAndGlyphs">150</text>
<text id="y100" x="132.0" y="967.8" font-size="83" textLength="136.0" lengthAdjust="spacingAndGlyphs">100</text>
<text id="y50" x="168.0" y="1187.8" font-size="83" textLength="91.0" lengthAdjust="spacingAndGlyphs">50</text>
<text id="y0" x="207.0" y="1365.0" font-size="83" textLength="45.5" lengthAdjust="spacingAndGlyphs">0</text>
<text id="x250" x="215.0" y="1454.5" font-size="83" textLength="136.0" lengthAdjust="spacingAndGlyphs">250</text>
<text id="x300" x="521.5" y="1461.0" font-size="83" textLength="136.0" lengthAdjust="spacingAndGlyphs">300</text>
<text id="x350" x="830.0" y="1461.0" font-size="83" textLength="136.0" lengthAdjust="spacingAndGlyphs">350</text>
<text id="x400" x="1150.5" y="1457.2" font-size="83" textLength="136.0" lengthAdjust="spacingAndGlyphs">400</text>
<text id="x450" x="1456.0" y="1456.2" font-size="83" textLength="136.0" lengthAdjust="spacingAndGlyphs">450</text>
<text id="x500" x="1771.0" y="1453.5" font-size="83" textLength="136.0" lengthAdjust="spacingAndGlyphs">500</text>
<text id="x550" x="2072.0" y="1456.2" font-size="83" textLength="136.0" lengthAdjust="spacingAndGlyphs">550</text>
<text id="xt" x="937.5" y="1552.8" font-size="83.5" textLength="621.0" lengthAdjust="spacingAndGlyphs">Wavelength (nm)</text>
<text id="yt" x="89.0" y="1114.3" font-size="83.5" textLength="830.0" lengthAdjust="spacingAndGlyphs" transform="rotate(-90 89.0 1114.3)">Intensity (arbitrary unit)</text>
<text id="xm" x="367.0" y="878.3" font-size="68" textLength="36.0" lengthAdjust="spacingAndGlyphs">x</text>
</g>
</svg></body></html>
